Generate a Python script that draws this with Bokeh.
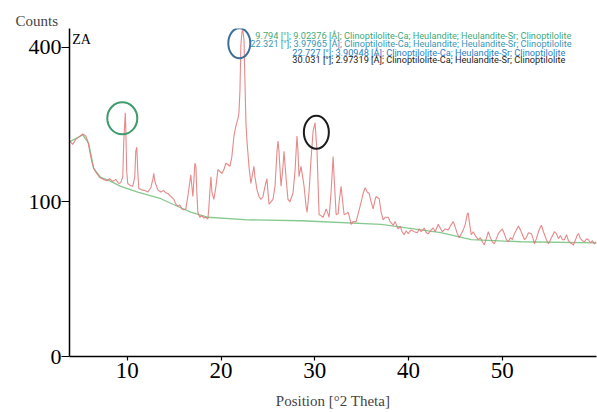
import numpy as np
from bokeh.plotting import figure
from bokeh.models import Range1d, FixedTicker, ColumnDataSource
from bokeh.core.properties import value
from bokeh.embed import file_html
from bokeh.resources import INLINE

# ---- data ----
two_theta = [
    3.86, 4.18, 4.50, 4.82, 5.25, 5.57, 5.78, 6.00, 6.21, 6.42,
    6.74, 7.06, 7.49, 7.81, 8.13, 8.45, 8.77, 9.09, 9.30, 9.52,
    9.63, 9.79, 9.84, 9.94, 10.05, 10.37, 10.59, 10.80, 10.91, 11.02,
    11.12, 11.23, 11.55, 11.87, 12.19, 12.51, 12.73, 12.83, 12.94, 13.26,
    13.58, 13.90, 14.11, 14.33, 14.65, 14.97, 15.18, 15.40, 15.61, 15.82,
    16.04, 16.25, 16.46, 16.68, 16.78, 16.89, 17.00, 17.10, 17.21, 17.32,
    17.42, 17.53, 17.74, 17.96, 18.17, 18.38, 18.60, 18.71, 18.92, 19.03,
    19.24, 19.46, 19.67, 19.88, 20.10, 20.31, 20.52, 20.74, 20.95, 21.16,
    21.38, 21.59, 21.80, 21.91, 22.02, 22.12, 22.23, 22.32, 22.45, 22.55,
    22.66, 22.77, 22.98, 23.19, 23.41, 23.51, 23.62, 23.84, 24.05, 24.26,
    24.48, 24.69, 24.90, 25.01, 25.12, 25.33, 25.54, 25.76, 25.97, 26.08,
    26.18, 26.40, 26.61, 26.72, 26.93, 27.14, 27.35, 27.67, 27.89, 28.10,
    28.21, 28.32, 28.53, 28.75, 28.86, 29.07, 29.18, 29.39, 29.60, 29.82,
    30.03, 30.24, 30.46, 30.67, 30.88, 31.10, 31.21, 31.42, 31.53, 31.74,
    31.96, 32.06, 32.28, 32.49, 32.60, 32.81, 32.92, 33.13, 33.34, 33.56,
    33.77, 33.88, 34.09, 34.41, 34.63, 34.95, 35.16, 35.37, 35.59, 35.80,
    36.01, 36.23, 36.44, 36.55, 36.76, 36.87, 37.08, 37.29, 37.51, 37.83,
    38.04, 38.36, 38.57, 38.89, 39.11, 39.32, 39.54, 39.75, 39.96, 40.28,
    40.61, 40.93, 41.14, 41.35, 41.67, 41.89, 42.10, 42.42, 42.63, 42.85,
    43.17, 43.38, 43.60, 43.92, 44.24, 44.45, 44.77, 44.98, 45.20, 45.41,
    45.63, 45.84, 46.05, 46.27, 46.37, 46.48, 46.69, 46.91, 47.12, 47.44,
    47.66, 47.87, 48.08, 48.30, 48.51, 48.73, 48.94, 49.15, 49.37, 49.58,
    49.80, 50.01, 50.22, 50.44, 50.65, 50.87, 51.08, 51.29, 51.51, 51.72,
    51.94, 52.15, 52.36, 52.57, 52.79, 53.11, 53.32, 53.43, 53.64, 53.86,
    54.07, 54.18, 54.39, 54.71, 54.93, 55.14, 55.35, 55.56, 55.78, 55.99,
    56.21, 56.42, 56.63, 56.85, 57.06, 57.27, 57.59, 57.81, 58.02, 58.13,
    58.34, 58.55, 58.77, 58.98, 59.19, 59.41, 59.62, 59.83, 60.05,
]
counts = [
    194, 188, 197, 201, 207, 203, 194, 176, 159, 148,
    140, 134, 131, 129, 132, 128, 131, 125, 126, 135,
    194, 248, 222, 143, 125, 122, 121, 135, 176, 183,
    143, 118, 116, 115, 113, 119, 131, 140, 128, 116,
    113, 115, 112, 111, 107, 103, 97, 94, 96, 91,
    90, 91, 107, 128, 138, 121, 107, 128, 156, 151,
    113, 87, 81, 83, 80, 81, 79, 94, 135, 113,
    103, 121, 146, 143, 140, 146, 156, 154, 151, 167,
    203, 222, 236, 248, 295, 405, 440, 446, 419, 318,
    228, 194, 151, 125, 143, 151, 135, 116, 107, 103,
    107, 121, 132, 113, 97, 100, 103, 121, 176, 194,
    176, 121, 151, 176, 135, 103, 100, 111, 143, 203,
    176, 135, 151, 131, 121, 94, 87, 113, 162, 212,
    228, 176, 84, 83, 81, 87, 91, 85, 81, 113,
    167, 135, 84, 85, 100, 121, 107, 84, 85, 87,
    78, 73, 76, 76, 85, 100, 111, 119, 113, 111,
    100, 91, 103, 107, 105, 104, 87, 78, 81, 81,
    76, 72, 76, 68, 71, 65, 62, 66, 63, 67,
    65, 64, 68, 65, 69, 64, 63, 67, 69, 65,
    73, 69, 65, 68, 67, 71, 76, 70, 63, 59,
    63, 67, 73, 85, 86, 76, 62, 65, 61, 57,
    59, 55, 52, 58, 65, 59, 55, 53, 58, 63,
    66, 68, 63, 57, 55, 59, 57, 63, 67, 71,
    67, 62, 57, 59, 64, 63, 57, 53, 58, 65,
    70, 72, 65, 57, 53, 57, 61, 65, 63, 58,
    61, 57, 57, 62, 56, 54, 52, 57, 62, 63,
    58, 56, 55, 58, 57, 54, 56, 53, 55,
]
background_theta = [3.86, 5.25, 5.88, 6.42, 7.17, 8.24, 9.30, 11.12, 13.58, 15.40,
                    16.78, 18.60, 22.87, 28.53, 37.08, 43.44, 46.69, 52.00, 60.05]
background_counts = [193, 205, 190, 148, 134, 128, 121, 113, 104, 94,
                     87, 81, 78, 77, 73, 64, 57, 55, 54]

x_ticks = [10, 20, 30, 40, 50]
y_ticks = [0, 100, 400]

# peak marks (circles) and peak list
mark_theta = [9.47, 21.95, 30.17]
mark_counts = [237, 410, 210]
mark_w = [30, 22, 25]
mark_h = [32, 30, 33]
mark_colors = ["#3f9a6c", "#3d6f99", "#1c1c1c"]

peak_text = [
    "9.794 [°]; 9.02376 [Å]; Clinoptilolite-Ca; Heulandite; Heulandite-Sr; Clinoptilolite",
    "22.321 [°]; 3.97965 [Å]; Clinoptilolite-Ca; Heulandite; Heulandite-Sr; Clinoptilolite",
    "22.727 [°]; 3.90948 [Å]; Clinoptilolite-Ca; Heulandite-Sr; Clinoptilolite",
    "30.031 [°]; 2.97319 [Å]; Clinoptilolite-Ca; Heulandite-Sr; Clinoptilolite",
]
peak_text_theta = [23.66, 23.13, 27.61, 27.61]
peak_text_counts = [430, 410, 387, 368]
peak_text_colors = ["#3fa97a", "#3b96b6", "#2b7fc4", "#222222"]

n = min(len(two_theta), len(counts))
tt = np.array(two_theta[:n])
yy = np.sqrt(np.array(counts[:n], dtype=float))

p = figure(width=597, height=412, output_backend="svg", toolbar_location=None,
           x_range=Range1d(3.84, 60.05), y_range=Range1d(0, 21.2),
           min_border_left=69, min_border_right=1, min_border_top=28,
           min_border_bottom=56, title="Counts")
p.background_fill_color = "white"
p.border_fill_color = "white"
p.outline_line_color = None
p.xgrid.visible = False
p.ygrid.visible = False

p.title.align = "left"
p.title.offset = -54
p.title.text_font = "Liberation Serif"
p.title.text_font_size = "15px"
p.title.text_font_style = "normal"
p.title.standoff = 0

# background (green) and pattern (red)
p.line(background_theta, np.sqrt(np.array(background_counts, dtype=float)),
       line_color="#86c98f", line_width=1.3)
p.line(tt, yy, line_color="#e07474", line_width=1.1, line_alpha=0.85)

# circles
p.ellipse(x=mark_theta, y=np.sqrt(np.array(mark_counts, dtype=float)),
          width=mark_w, height=mark_h, width_units="screen", height_units="screen",
          fill_color=None, line_color=mark_colors, line_width=2)

src = ColumnDataSource(dict(x=peak_text_theta,
                            y=np.sqrt(np.array(peak_text_counts, dtype=float)),
                            t=peak_text, c=peak_text_colors))
p.text(x="x", y="y", text="t", text_color="c", source=src,
       text_font=value("Roboto"), text_font_size="9.2px",
       text_baseline="middle", text_align="left")

p.text(x=[4.13], y=[np.sqrt(421.0)], text=["ZA"], text_font=value("Liberation Serif"),
       text_font_size="14px", text_baseline="alphabetic", text_align="left",
       text_color="black")

# axes
for ax in (p.xaxis[0], p.yaxis[0]):
    ax.axis_line_color = "black"
    ax.axis_line_width = 1.5
    ax.major_tick_line_color = "black"
    ax.major_tick_line_width = 1.2
    ax.minor_tick_line_color = None
    ax.major_tick_in = 0
    ax.major_label_text_font = "Liberation Serif"
    ax.major_label_text_color = "black"

p.xaxis.ticker = FixedTicker(ticks=x_ticks)
p.xaxis.major_tick_out = 4
p.xaxis.major_label_standoff = 2
p.xaxis.major_label_text_font_size = "23px"
p.xaxis.axis_label = "Position [°2 Theta]"
p.xaxis.axis_label_text_font = "Liberation Serif"
p.xaxis.axis_label_text_font_size = "15px"
p.xaxis.axis_label_text_font_style = "normal"
p.xaxis.axis_label_standoff = 12

sq_ticks = [float(np.sqrt(t)) for t in y_ticks]
p.yaxis.ticker = FixedTicker(ticks=sq_ticks)
p.yaxis.major_label_overrides = {s: str(t) for s, t in zip(sq_ticks, y_ticks)}
p.yaxis.major_tick_out = 8
p.yaxis.major_label_standoff = 0
p.yaxis.major_label_text_font_size = "22px"

open("out.html", "w").write(file_html(p, INLINE))
